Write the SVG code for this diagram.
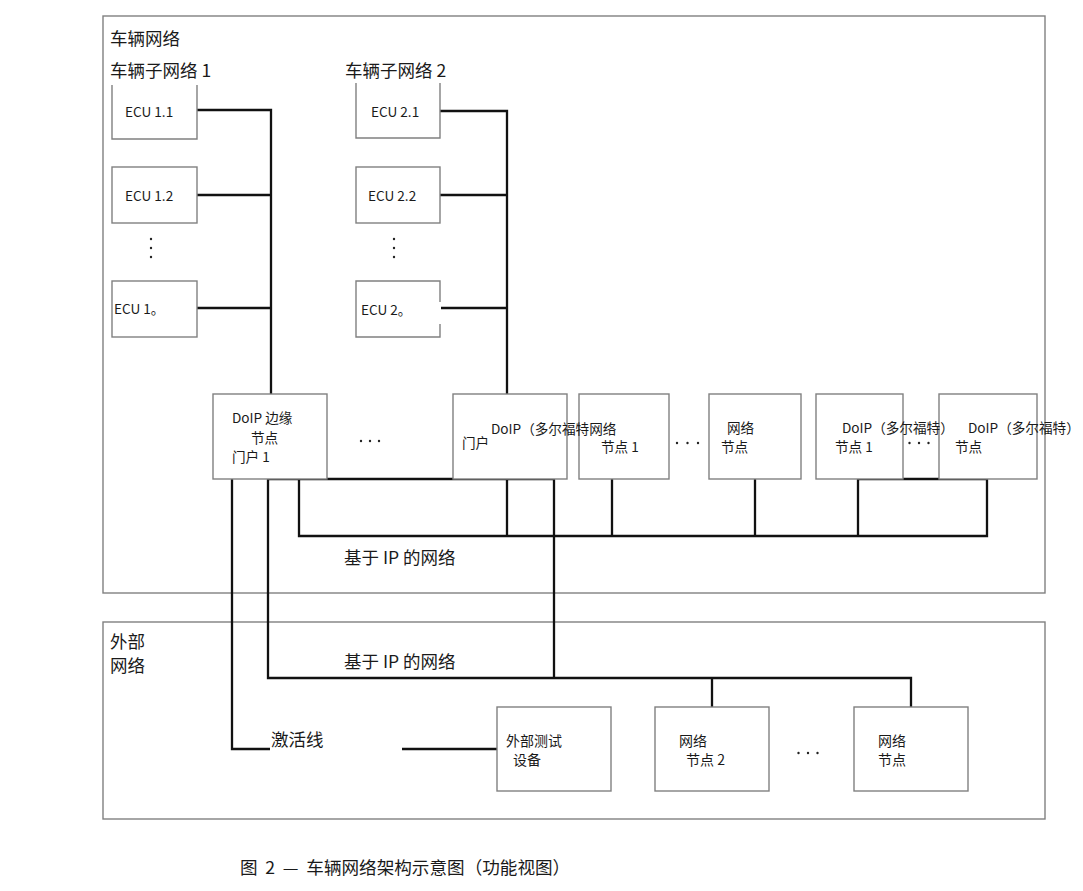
<svg xmlns="http://www.w3.org/2000/svg" width="1083" height="891" viewBox="0 0 1083 891">
<style>
.box{fill:#fff;stroke:#808080;stroke-width:1.4}
.frame{fill:none;stroke:#808080;stroke-width:1.4}
.wire{fill:none;stroke:#111;stroke-width:2.3}
.dot{fill:#222}
text{font-family:"Noto Sans CJK SC","Noto Sans",sans-serif;fill:#1a1a1a}
.l{font-size:17.5px}
.s{font-size:13.6px}
.m{font-size:14px}
.cap{font-size:17.6px;word-spacing:3.8px}
</style>
<rect width="1083" height="891" fill="#fff"/>
<g id="vehicle-network">
<rect class="frame" x="103" y="16" width="942" height="577"/>
<text class="l" x="110" y="45">车辆网络</text>
<text class="l" x="110" y="77">车辆子网络 1</text>
<text class="l" x="345" y="77">车辆子网络 2</text>
<text class="l" x="344" y="564">基于 IP 的网络</text>
</g>
<g id="external-network">
<rect class="frame" x="103" y="622" width="942" height="197"/>
<text class="l" x="110" y="648">外部</text>
<text class="l" x="110" y="672">网络</text>
<text class="l" x="344" y="668">基于 IP 的网络</text>
<text class="l" x="271" y="746">激活线</text>
</g>
<g id="connectors">
<path class="wire" d="M197,110 H271 V394 M197,195 H271 M197,308 H271"/>
<path class="wire" d="M440,111 H507 V394 M440,195 H507 M441,308 H507"/>
<path class="wire" d="M268,479 H554 V678 M268,479 V678 H911 V707 M712,678 V707"/>
<path class="wire" d="M299,479 V536 H987 V479 H858 V536 M507,479 V536 M612,479 V536 M755,479 V536"/>
<path class="wire" d="M232,479 V749 H270 M402,749 H497"/>
</g>
<g id="ecu-1-1"><path class="box" d="M112,85 V139 H197 V85"/><text class="s" x="125" y="117">ECU 1.1</text></g>
<g id="ecu-1-2"><rect class="box" x="112" y="167" width="85" height="56"/><text class="s" x="125" y="201">ECU 1.2</text></g>
<g id="ecu-1-dots"><circle class="dot" cx="151" cy="239" r="1.2"/><circle class="dot" cx="151" cy="248" r="1.2"/><circle class="dot" cx="151" cy="257" r="1.2"/></g>
<g id="ecu-1-n"><rect class="box" x="112" y="281" width="85" height="56"/><text class="s" x="114" y="314">ECU 1。</text></g>
<g id="ecu-2-1"><path class="box" d="M356,83 V138 H440 V83"/><text class="s" x="371" y="117">ECU 2.1</text></g>
<g id="ecu-2-2"><rect class="box" x="356" y="167" width="84" height="56"/><text class="s" x="368" y="201">ECU 2.2</text></g>
<g id="ecu-2-dots"><circle class="dot" cx="394" cy="239" r="1.2"/><circle class="dot" cx="394" cy="248" r="1.2"/><circle class="dot" cx="394" cy="257" r="1.2"/></g>
<g id="ecu-2-n"><path class="box" d="M440,302 V281 H356 V337 H440 V324"/><text class="s" x="361" y="315">ECU 2。</text></g>
<g id="doip-edge-gateway-1"><rect class="box" x="213" y="394" width="114" height="85"/><text class="s" x="232" y="423">DoIP 边缘</text><text class="s" x="251" y="443">节点</text><text class="s" x="232" y="462">门户 1</text></g>
<g id="dots-gw"><circle class="dot" cx="361" cy="441" r="1.2"/><circle class="dot" cx="370" cy="441" r="1.2"/><circle class="dot" cx="379" cy="441" r="1.2"/></g>
<g id="doip-gateway"><rect class="box" x="453" y="394" width="114" height="85"/></g>
<g id="network-node-1"><rect class="box" x="579" y="394" width="90" height="85"/><text class="s" x="601" y="452">节点 1</text></g>
<g id="doip-gateway-label"><text class="s" x="491" y="434">DoIP（多尔福特网络</text><text class="s" x="462" y="448">门户</text></g>
<g id="dots-nodes"><circle class="dot" cx="677" cy="443" r="1.2"/><circle class="dot" cx="687.5" cy="443" r="1.2"/><circle class="dot" cx="698" cy="443" r="1.2"/></g>
<g id="network-node-n"><rect class="box" x="709" y="394" width="92" height="85"/><text class="s" x="727" y="433">网络</text><text class="s" x="721" y="452">节点</text></g>
<g id="doip-node-1"><rect class="box" x="816" y="394" width="87" height="85"/></g>
<g id="doip-node-n"><rect class="box" x="939" y="394" width="98" height="85"/></g>
<g id="doip-node-labels"><text class="s" x="842" y="433">DoIP（多尔福特）</text><text class="s" x="835" y="452">节点 1</text><circle class="dot" cx="909.5" cy="443" r="1.2"/><circle class="dot" cx="919" cy="443" r="1.2"/><circle class="dot" cx="928.5" cy="443" r="1.2"/><text class="s" x="968" y="433">DoIP（多尔福特）</text><text class="s" x="955" y="452">节点</text></g>
<g id="external-test-equipment"><rect class="box" x="497" y="707" width="114" height="84"/><text class="m" x="506" y="746">外部测试</text><text class="m" x="513" y="765">设备</text></g>
<g id="ext-network-node-2"><rect class="box" x="655" y="707" width="114" height="84"/><text class="m" x="679" y="746">网络</text><text class="m" x="686" y="765">节点 2</text></g>
<g id="dots-ext"><circle class="dot" cx="798.5" cy="753" r="1.2"/><circle class="dot" cx="808" cy="753" r="1.2"/><circle class="dot" cx="817.5" cy="753" r="1.2"/></g>
<g id="ext-network-node-n"><rect class="box" x="854" y="707" width="114" height="84"/><text class="m" x="878" y="746">网络</text><text class="m" x="878" y="765">节点</text></g>
<g id="caption"><text class="cap" x="240" y="874">图 2 — 车辆网络架构示意图（功能视图）</text></g>
</svg>
